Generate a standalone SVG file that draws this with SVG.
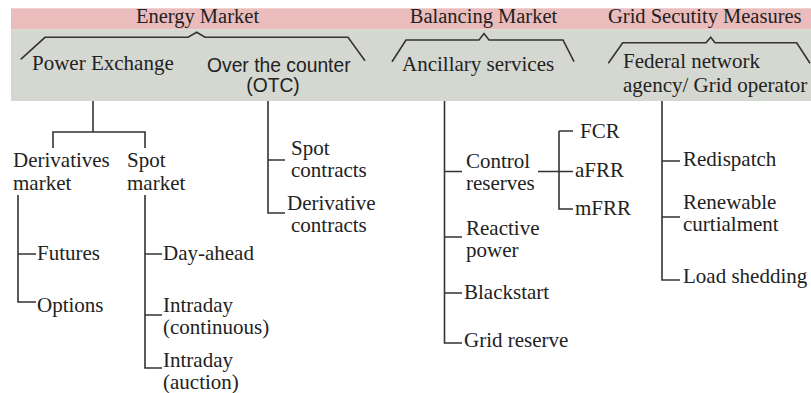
<svg xmlns="http://www.w3.org/2000/svg" width="811" height="393" viewBox="0 0 811 393">
<style>
.t{font-family:"Liberation Serif","Times New Roman",serif;font-size:21px;fill:#222}
.h{font-family:"Liberation Serif","Times New Roman",serif;font-size:20.5px;fill:#222}
.s{font-family:"Liberation Sans",Arial,sans-serif;font-size:19.3px;fill:#222}
.c{fill:none;stroke:#333;stroke-width:1.6}
</style>
<rect x="11" y="8.3" width="800" height="21" fill="#ebbcbc"/>
<rect x="11" y="29.3" width="800" height="71.7" fill="#d5d7d1"/>
<g id="headers">
<text class="h" x="197.5" y="23.3" text-anchor="middle">Energy Market</text>
<text class="h" x="483.5" y="22.5" text-anchor="middle">Balancing Market</text>
<text class="h" x="608" y="22.5">Grid Secutity Measures</text>
</g>
<g id="connectors" class="c">
<polyline points="20.7,59.3 45,37.3 188,37.3 196.7,32.3 205,37.3 348,37.3 365,60.7"/>
<polyline points="392,61.7 406,40 479,40 484,33.5 489,40 563,40 574,61.7"/>
<polyline points="608.3,63.3 622.7,42.7 706,42.7 710.7,37.3 715,42.7 796.7,42.7 810,63.3"/>
<path d="M93,101V132M53,148V132H145V148"/>
<path d="M18,195V302H36M18,254H36"/>
<path d="M145,195V368H162M145,254H162M145,315H162"/>
<path d="M268,101V213H285M268,160H285"/>
<path d="M444.5,101V343H462M444.5,171.5H462M444.5,237H462M444.5,293H462"/>
<path d="M538,171.5H573M559,131V209H573M559,131H573"/>
<path d="M662,101V280H680M662,161H680M662,217H680"/>
</g>
<g id="power-exchange"><text class="t" x="32" y="70">Power Exchange</text></g>
<g id="otc"><text class="s" x="207" y="72">Over the counter</text><text class="s" x="273" y="92" text-anchor="middle">(OTC)</text></g>
<g id="ancillary"><text class="t" x="402" y="71">Ancillary services</text></g>
<g id="federal"><text class="t" x="623" y="68">Federal network</text><text class="t" x="623" y="92">agency/ Grid operator</text></g>
<g id="derivatives-market"><text class="t" x="13" y="167">Derivatives</text><text class="t" x="13" y="190">market</text></g>
<g id="spot-market"><text class="t" x="127" y="167">Spot</text><text class="t" x="127" y="190">market</text></g>
<g id="futures"><text class="t" x="37" y="260">Futures</text></g>
<g id="options"><text class="t" x="37" y="312">Options</text></g>
<g id="day-ahead"><text class="t" x="163" y="260">Day-ahead</text></g>
<g id="intraday-continuous"><text class="t" x="163" y="312">Intraday</text><text class="t" x="163" y="334">(continuous)</text></g>
<g id="intraday-auction"><text class="t" x="163" y="367">Intraday</text><text class="t" x="163" y="389">(auction)</text></g>
<g id="spot-contracts"><text class="t" x="291" y="155">Spot</text><text class="t" x="291" y="177">contracts</text></g>
<g id="derivative-contracts"><text class="t" x="287" y="210">Derivative</text><text class="t" x="291" y="232">contracts</text></g>
<g id="control-reserves"><text class="t" x="466" y="168">Control</text><text class="t" x="466" y="190">reserves</text></g>
<g id="fcr"><text class="t" x="580" y="138">FCR</text></g>
<g id="afrr"><text class="t" x="575" y="177">aFRR</text></g>
<g id="mfrr"><text class="t" x="575" y="215">mFRR</text></g>
<g id="reactive-power"><text class="t" x="466" y="235">Reactive</text><text class="t" x="466" y="257">power</text></g>
<g id="blackstart"><text class="t" x="464" y="299">Blackstart</text></g>
<g id="grid-reserve"><text class="t" x="464" y="347">Grid reserve</text></g>
<g id="redispatch"><text class="t" x="683" y="166">Redispatch</text></g>
<g id="renewable"><text class="t" x="683" y="209">Renewable</text><text class="t" x="683" y="231">curtialment</text></g>
<g id="load-shedding"><text class="t" x="683" y="283">Load shedding</text></g>
</svg>
